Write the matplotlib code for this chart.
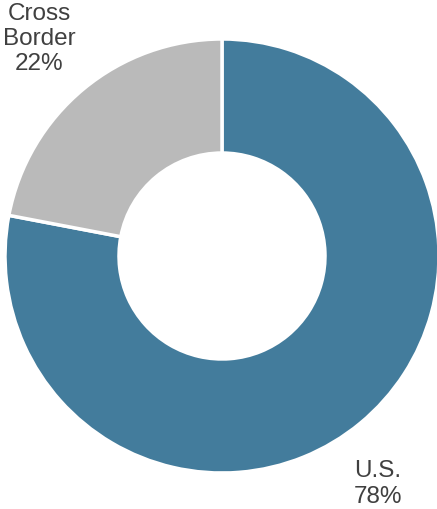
"""Donut chart: U.S. vs Cross Border share."""

import matplotlib.pyplot as plt

LABELS = ["U.S.", "Cross\nBorder"]
SHARES = [78, 22]
COLORS = ["#437c9c", "#bababa"]


def main() -> None:
    plt.rcParams["font.family"] = ["Liberation Sans", "DejaVu Sans"]

    fig = plt.figure(figsize=(4.37, 5.09), dpi=100)
    ax = fig.add_axes([0, 0, 1, 1])

    ax.pie(
        SHARES,
        colors=COLORS,
        startangle=90,
        counterclock=False,
        center=(222, 253),
        radius=217,
        wedgeprops={"width": 114, "edgecolor": "white", "linewidth": 2.5},
        frame=True,
    )
    ax.set_xlim(0, 437)
    ax.set_ylim(0, 509)
    ax.set_aspect("equal")
    ax.axis("off")

    text_kw = {"ha": "center", "va": "center", "fontsize": 17.5,
               "color": "#404040", "linespacing": 1.2}
    ax.text(39, 470, f"{LABELS[1]}\n{SHARES[1]}%", **text_kw)
    ax.text(378, 25, f"{LABELS[0]}\n{SHARES[0]}%", **text_kw)

    fig.savefig("out.png", dpi=100)


if __name__ == "__main__":
    main()
